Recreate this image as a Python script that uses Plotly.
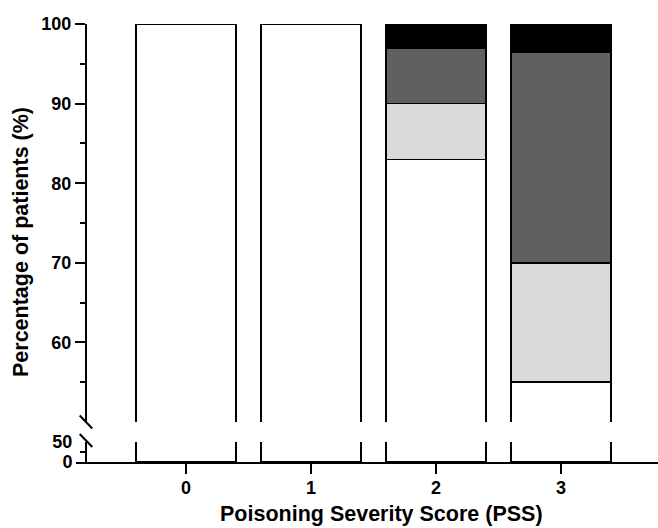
import plotly.graph_objects as go

# ---- data ----
categories = ["0", "1", "2", "3"]
seg_white = [100, 100, 83, 55]
seg_light = [0, 0, 7, 15]
seg_dark = [0, 0, 7, 26.5]
seg_black = [0, 0, 3, 3.5]

upper_ticks = [60, 70, 80, 90, 100]
upper_minor = [55, 65, 75, 85, 95]
lower_ticks = [0, 50]
lower_minor = [25]

x_title = "Poisoning Severity Score (PSS)"
y_title = "Percentage of patients (%)"

# ---- layout constants (pixels) ----
W, H = 658, 528
ML, MR, MT, MB = 76, 0, 24, 66
PW, PH = W - ML - MR, H - MT - MB
AXIS_X = 86                 # y-axis line pixel x
UPPER_BOTTOM = 422          # pixel y of upper segment bottom
LOWER_TOP = 442             # pixel y of lower segment top
BASE_Y = H - MB             # x-axis pixel y

def px_x(p):
    return (p - ML) / PW

def px_y(p):
    return (BASE_Y - p) / PH

FONT = "Liberation Sans, Arial, Helvetica, sans-serif"
colors = ["#ffffff", "#d9d9d9", "#606060", "#000000"]
series = [seg_white, seg_light, seg_dark, seg_black]

fig = go.Figure()
for yax in ["y", "y2"]:
    for vals, col in zip(series, colors):
        fig.add_trace(go.Bar(
            x=categories, y=vals, yaxis=yax, width=0.8,
            marker=dict(color=col, line=dict(color="#000000", width=1.5)),
            showlegend=False, hoverinfo="skip",
        ))

axis_pos = px_x(AXIS_X)

fig.update_layout(
    width=W, height=H,
    margin=dict(l=ML, r=MR, t=MT, b=MB, pad=0),
    paper_bgcolor="white", plot_bgcolor="white",
    barmode="stack", bargap=0.2,
    font=dict(family=FONT, size=18, color="#000000", weight="bold"),
    xaxis=dict(
        type="category", range=[-0.88, 3.776], domain=[0, 1],
        anchor="y2", showline=True, linewidth=2, linecolor="#000000",
        ticks="outside", ticklen=10, tickwidth=2, tickcolor="#000000",
        ticklabelstandoff=-2,
        showgrid=False, zeroline=False,
        tickfont=dict(size=18, family=FONT, weight="bold"),
    ),
    yaxis=dict(
        range=[50, 100], domain=[px_y(UPPER_BOTTOM), 1],
        anchor="free", position=axis_pos,
        tickmode="array", tickvals=upper_ticks,
        ticks="outside", ticklen=10, tickwidth=2, tickcolor="#000000",
        minor=dict(tickmode="array", tickvals=upper_minor, ticks="outside",
                   ticklen=5, tickwidth=2, tickcolor="#000000"),
        showline=True, linewidth=2, linecolor="#000000",
        showgrid=False, zeroline=False,
        tickfont=dict(size=18, family=FONT, weight="bold"),
    ),
    yaxis2=dict(
        range=[0, 50], domain=[0, px_y(LOWER_TOP)],
        anchor="free", position=axis_pos,
        tickmode="array", tickvals=lower_ticks,
        ticktext=[str(v) for v in lower_ticks],
        ticks="", ticklabelstandoff=9,
        minor=dict(tickmode="array", tickvals=lower_minor, ticks="outside",
                   ticklen=5, tickwidth=2, tickcolor="#000000"),
        showline=True, linewidth=2, linecolor="#000000",
        showgrid=False, zeroline=False,
        tickfont=dict(size=18, family=FONT, weight="bold"),
    ),
)

# axis titles
fig.add_annotation(
    text=x_title, xref="paper", yref="paper",
    x=px_x(381), y=px_y(514), xanchor="center", yanchor="middle",
    showarrow=False, font=dict(size=21.5, family=FONT, weight="bold"),
)
fig.add_annotation(
    text=y_title, xref="paper", yref="paper", textangle=-90,
    x=px_x(21), y=px_y(242), xanchor="center", yanchor="middle",
    showarrow=False, font=dict(size=21.5, family=FONT, weight="bold"),
)

# axis-break marks
for cy in [UPPER_BOTTOM, LOWER_TOP - 1.5]:
    fig.add_shape(
        type="line", xref="paper", yref="paper",
        x0=px_x(AXIS_X - 6.3), y0=px_y(cy - 6.5),
        x1=px_x(AXIS_X + 6.3), y1=px_y(cy + 6.5),
        line=dict(color="#000000", width=2),
    )

fig.write_html(
    "out.html",
    config={"displayModeBar": False},
    post_script="document.body.style.margin='0';document.body.style.padding='0';",
)
